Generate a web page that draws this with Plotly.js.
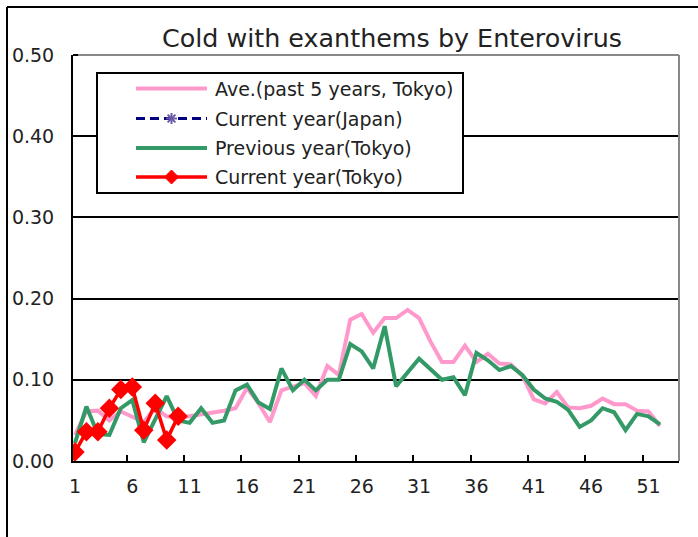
<!DOCTYPE html>
<html>
<head>
<meta charset="utf-8">
<script src="https://cdn.plot.ly/plotly-3.0.1.min.js"></script>
<style>
  html, body { margin: 0; padding: 0; background: #fff; }
  #chart { width: 698px; height: 537px; }
</style>
</head>
<body>
<div id="chart"></div>
<script>
// ---- data ----
const weeks = Array.from({length: 52}, (_, i) => i + 1);
const weeksCurrent = [1, 2, 3, 4, 5, 6, 7, 8, 9, 10];

const aveTokyo = [0.032, 0.061, 0.062, 0.050, 0.061, 0.055, 0.048, 0.065, 0.055, 0.053,
                  0.055, 0.058, 0.060, 0.062, 0.065, 0.090, 0.071, 0.048, 0.087, 0.092,
                  0.096, 0.080, 0.117, 0.106, 0.174, 0.181, 0.158, 0.176, 0.176, 0.186,
                  0.176, 0.147, 0.122, 0.122, 0.142, 0.122, 0.132, 0.120, 0.119, 0.105,
                  0.076, 0.071, 0.085, 0.066, 0.065, 0.068, 0.077, 0.070, 0.070, 0.062,
                  0.061, 0.043];

const prevTokyo = [0.022, 0.067, 0.033, 0.032, 0.065, 0.075, 0.023, 0.052, 0.080, 0.050,
                   0.047, 0.065, 0.047, 0.050, 0.087, 0.094, 0.072, 0.064, 0.114, 0.087,
                   0.100, 0.087, 0.100, 0.100, 0.144, 0.135, 0.114, 0.166, 0.092, 0.109,
                   0.126, 0.113, 0.100, 0.103, 0.081, 0.133, 0.124, 0.112, 0.117, 0.106,
                   0.088, 0.077, 0.073, 0.063, 0.042, 0.050, 0.065, 0.060, 0.038, 0.058,
                   0.055, 0.045];

const curTokyo = [0.011, 0.036, 0.036, 0.065, 0.088, 0.091, 0.038, 0.071, 0.026, 0.055];

// Current year (Japan): no values plotted in the reference
const curJapanWeeks = [null];
const curJapan = [null];

const xTickVals = [1, 6, 11, 16, 21, 26, 31, 36, 41, 46, 51];
const xTickText = ['1', '6', '11', '16', '21', '26', '31', '36', '41', '46', '51'];
const xTickMarks = [5.5, 10.5, 15.5, 20.5, 25.5, 30.5, 35.5, 40.5, 45.5, 50.5];
const yTickVals = [0, 0.1, 0.2, 0.3, 0.4, 0.5];
const yTickText = ['0.00', '0.10', '0.20', '0.30', '0.40', '0.50'];

const names = ['Ave.(past 5 years, Tokyo)', 'Current year(Japan)', 'Previous year(Tokyo)', 'Current year(Tokyo)'];
const colors = ['#FF99CC', '#000080', '#339966', '#FF0000'];
const titleText = 'Cold with exanthems by Enterovirus';

// ---- chart ----
const FONT = 'DejaVu Sans, sans-serif';
const TXT = '#222';
const xRange = [0.83, 53.66];

// plot-area pixel geometry (for paper-coordinate helpers)
const PL = 73, PR = 679, PT = 55, PB = 461;
const px = v => (v - PL) / (PR - PL);
const py = v => (PB - v) / (PB - PT);

const traces = [
  { x: weeks, y: aveTokyo, name: names[0], type: 'scatter', mode: 'lines',
    line: { color: colors[0], width: 4 } },
  { x: curJapanWeeks, y: curJapan, name: names[1], type: 'scatter', mode: 'lines+markers',
    xaxis: 'x2',
    line: { color: colors[1], width: 3, dash: 'dash' },
    marker: { symbol: 'asterisk-open', size: 10, color: '#6B58A8', line: { color: '#6B58A8', width: 2 } } },
  { x: weeks, y: prevTokyo, name: names[2], type: 'scatter', mode: 'lines',
    line: { color: colors[2], width: 4 } },
  { x: weeksCurrent, y: curTokyo, name: names[3], type: 'scatter', mode: 'lines+markers',
    line: { color: colors[3], width: 3.5 },
    marker: { symbol: 'diamond', size: 15, color: colors[3] } }
];

// ---- custom legend (box, samples, labels) ----
const legBox = { x0: 97, x1: 463, y0: 73, y1: 193 };
const rowY = [88.5, 118.5, 148, 177];
const sampX0 = 136, sampX1 = 207, sampMid = 171.5, textX = 213;

const shapes = [
  // grey plot-area border (top and right)
  { type: 'line', xref: 'paper', yref: 'paper', x0: 0, x1: 1, y0: 1, y1: 1,
    line: { color: '#888', width: 2 }, layer: 'above' },
  { type: 'line', xref: 'paper', yref: 'paper', x0: 1, x1: 1, y0: 0, y1: 1,
    line: { color: '#888', width: 2 }, layer: 'above' },
  { type: 'line', xref: 'paper', yref: 'paper', x0: 0, x1: px(PL + 5), y0: 1, y1: 1,
    line: { color: '#000', width: 2 }, layer: 'above' },
  // outer chart frame (top and left)
  { type: 'line', xref: 'paper', yref: 'paper', x0: px(7), x1: px(700),
    y0: py(7), y1: py(7), line: { color: '#000', width: 2 } },
  { type: 'line', xref: 'paper', yref: 'paper', x0: px(7), x1: px(7),
    y0: py(7), y1: py(540), line: { color: '#000', width: 2 } },
  // legend box
  { type: 'rect', xref: 'paper', yref: 'paper', x0: px(legBox.x0), x1: px(legBox.x1),
    y0: py(legBox.y0), y1: py(legBox.y1), fillcolor: '#fff',
    line: { color: '#000', width: 2 }, layer: 'above' }
];

// legend sample lines
const sampleWidths = [4, 3, 4, 3.5];
const sampleDash = ['solid', '9px,5px', 'solid', 'solid'];
for (let i = 0; i < 4; i++) {
  shapes.push({ type: 'line', xref: 'paper', yref: 'paper',
    x0: px(sampX0), x1: px(sampX1), y0: py(rowY[i]), y1: py(rowY[i]),
    line: { color: colors[i], width: sampleWidths[i], dash: sampleDash[i] }, layer: 'above' });
}
// asterisk marker for Japan sample
const astR = 5.5, astC = '#6B58A8';
[[1, 0], [0, 1], [0.71, 0.71], [0.71, -0.71]].forEach(([dx, dy]) => {
  shapes.push({ type: 'line', xref: 'paper', yref: 'paper',
    x0: px(sampMid - dx * astR), x1: px(sampMid + dx * astR),
    y0: py(rowY[1] - dy * astR), y1: py(rowY[1] + dy * astR),
    line: { color: astC, width: 2 }, layer: 'above' });
});
// diamond marker for Tokyo current sample
const dR = 7;
shapes.push({ type: 'path', xref: 'paper', yref: 'paper',
  path: `M ${px(sampMid - dR)} ${py(rowY[3])} L ${px(sampMid)} ${py(rowY[3] - dR)} ` +
        `L ${px(sampMid + dR)} ${py(rowY[3])} L ${px(sampMid)} ${py(rowY[3] + dR)} Z`,
  fillcolor: colors[3], line: { color: colors[3], width: 1 }, layer: 'above' });

const annotations = names.map((n, i) => ({
  text: n, xref: 'paper', yref: 'paper', x: px(textX), y: py(rowY[i]),
  xanchor: 'left', yanchor: 'middle', showarrow: false,
  font: { family: FONT, size: 19, color: TXT }
}));

const layout = {
  width: 698, height: 537,
  margin: { l: PL, r: 698 - PR, t: PT, b: 537 - PB },
  paper_bgcolor: '#fff', plot_bgcolor: '#fff',
  font: { family: FONT, color: TXT },
  title: { text: titleText, font: { family: FONT, size: 25.4, color: TXT },
           x: 392 / 698, xref: 'container', xanchor: 'center',
           y: 1 - 38 / 537, yref: 'container', yanchor: 'middle' },
  showlegend: false,
  xaxis: { range: xRange, tickmode: 'array', tickvals: xTickVals, ticktext: xTickText,
           ticks: '', showgrid: false, zeroline: false,
           showline: true, linecolor: '#000', linewidth: 2,
           tickfont: { family: FONT, size: 19, color: TXT }, ticklabelstandoff: 7 },
  xaxis2: { range: xRange, overlaying: 'x', anchor: 'y', side: 'bottom',
            tickmode: 'array', tickvals: xTickMarks, ticks: 'inside', ticklen: 6,
            tickwidth: 2, tickcolor: '#000', showticklabels: false,
            showgrid: false, zeroline: false, showline: false },
  yaxis: { range: [0, 0.5], tickmode: 'array', tickvals: yTickVals, ticktext: yTickText,
           ticks: 'inside', ticklen: 5, tickwidth: 2, tickcolor: '#000',
           showgrid: true, gridcolor: '#000', gridwidth: 2, zeroline: false,
           showline: true, linecolor: '#000', linewidth: 2,
           tickfont: { family: FONT, size: 19, color: TXT }, ticklabelstandoff: 13 },
  shapes: shapes,
  annotations: annotations
};

Plotly.newPlot('chart', traces, layout, { displayModeBar: false, staticPlot: true });
</script>
</body>
</html>
